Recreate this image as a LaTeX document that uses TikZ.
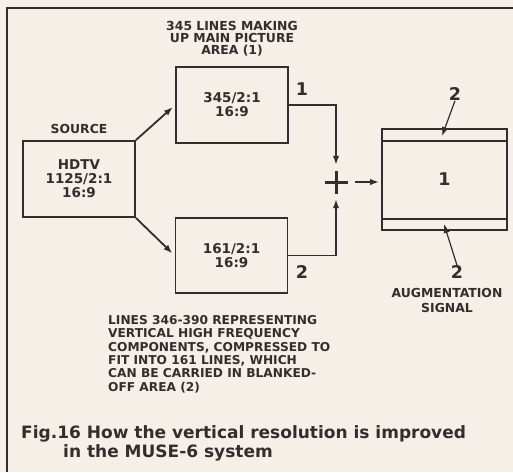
\documentclass[tikz,border=0pt]{standalone}
\usepackage{fontspec}
\setsansfont{DejaVu Sans}
\usetikzlibrary{arrows.meta,positioning}
\definecolor{paper}{HTML}{F5EFE8}
\definecolor{ink}{HTML}{332D2D}
\tikzset{
  box/.style={draw=ink,line width=1.8pt,minimum width=112pt,minimum height=76pt,
    align=center,inner sep=0pt,text=ink,font=\sffamily\bfseries\fontsize{13.5}{14}\selectfont},
  note/.style={align=center,inner sep=0pt,text=ink,
    font=\sffamily\bfseries\fontsize{12.4}{12.2}\selectfont},
  num/.style={inner sep=0pt,text=ink,font=\sffamily\bfseries\fontsize{17.5}{17}\selectfont},
  arrow/.style={-{Latex[length=9pt,width=6.5pt]},draw=ink,line width=1.8pt},
  caption/.style={anchor=base west,inner sep=0pt,text=ink,
    font=\sffamily\bfseries\fontsize{17}{19}\selectfont}
}
\begin{document}
\begin{tikzpicture}[x=1pt,y=-1pt]
  \fill[paper] (0,0) rectangle (513,472);
  \useasboundingbox (0,0) rectangle (513,472);
  \draw[ink,line width=2.2pt] (7,472) -- (7,8) -- (513,8);

  % source and the two paths
  \node[box] (src) at (79,179) {HDTV\\1125/2:1\\16:9};
  \node[note] (srclbl) at (79,129) {SOURCE};
  \node[box] (main) at (232,105) {345/2:1\\16:9};
  \node[note] (mainlbl) at (232,39) {345 LINES MAKING\\UP MAIN PICTURE\\AREA (1)};
  \node[box,minimum height=75pt] (blank) at (231.5,255.5) {161/2:1\\16:9};
  \node[note,align=left,anchor=north west,font=\sffamily\bfseries\fontsize{12.2}{13.4}\selectfont]
    (blanklbl) at (108,315) {LINES 346-390 REPRESENTING\\VERTICAL HIGH FREQUENCY\\
    COMPONENTS, COMPRESSED TO\\FIT INTO 161 LINES, WHICH\\CAN BE CARRIED IN BLANKED-\\OFF AREA (2)};
  \node[num] (one) at (302,89) {1};
  \node[num] (two) at (302,272) {2};

  % sum and output frame
  \node[minimum size=34pt,inner sep=0pt] (sum) at (336,182) {};
  \node[box,minimum width=125pt,minimum height=101pt,font=\sffamily\bfseries\fontsize{17.5}{17}\selectfont]
    (out) at (444.5,179.5) {1};
  \node[num] (twoa) at (455,94) {2};
  \node[num] (twob) at (457,272) {2};
  \node[note,font=\sffamily\bfseries\fontsize{12.4}{15}\selectfont] (auglbl) at (447,300) {AUGMENTATION\\SIGNAL};
  \coordinate (bandtop) at (442,136);
  \coordinate (bandbot) at (444,224);

  \draw[ink,line width=1.8pt] ([yshift=-13pt]out.north west) -- ([yshift=-13pt]out.north east)
    ([yshift=12pt]out.south west) -- ([yshift=12pt]out.south east);
  \draw[ink,line width=3pt] ([xshift=-11.5pt]sum.center) -- ([xshift=11.5pt]sum.center)
    ([yshift=-11.5pt]sum.center) -- ([yshift=11.5pt]sum.center);

  \draw[arrow,shorten >=3pt] (src.north east) -- (main.west);
  \draw[arrow,shorten >=3pt] (src.south east) -- (blank.west);
  \draw[arrow] (main.east) -| (sum.north);
  \draw[arrow] (blank.east) -| (sum.south);
  \draw[arrow,shorten <=2pt,shorten >=2pt] (sum.east) -- (sum.east -| out.west);
  \draw[arrow,line width=1.2pt] (twoa.south) -- (bandtop);
  \draw[arrow,line width=1.2pt] (twob.north) -- (bandbot);

  \node[caption] (cap) at (21,438) {Fig.16 How the vertical resolution is improved};
  \node[caption] (cap2) at (63,457) {in the MUSE-6 system};
\end{tikzpicture}
\end{document}
